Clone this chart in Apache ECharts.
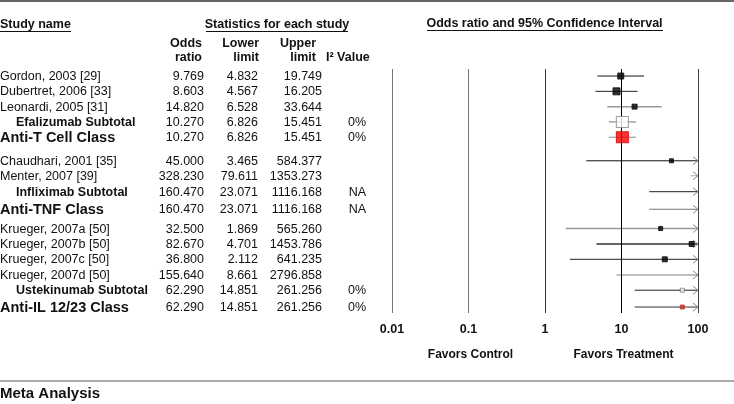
<!DOCTYPE html>
<html><head><meta charset="utf-8">
<script src="https://cdn.jsdelivr.net/npm/echarts@6/dist/echarts.min.js"></script>
<style>html,body{margin:0;padding:0;background:#fff}#c{width:734px;height:404px}</style>
</head><body><div id="c"></div>
<script>
// ---------------- data ----------------
const studyNames = ['Gordon, 2003 [29]','Dubertret, 2006 [33]','Leonardi, 2005 [31]','Efalizumab Subtotal','Anti-T Cell Class',
  'Chaudhari, 2001 [35]','Menter, 2007 [39]','Infliximab Subtotal','Anti-TNF Class',
  'Krueger, 2007a [50]','Krueger, 2007b [50]','Krueger, 2007c [50]','Krueger, 2007d [50]','Ustekinumab Subtotal','Anti-IL 12/23 Class'];
const rowKinds = ['study','study','study','sub','class','study','study','sub','class','study','study','study','study','sub','class'];
const oddsRatio = [9.769,8.603,14.820,10.270,10.270,45.000,328.230,160.470,160.470,32.500,82.670,36.800,155.640,62.290,62.290];
const lowerLimit = [4.832,4.567,6.528,6.826,6.826,3.465,79.611,23.071,23.071,1.869,4.701,2.112,8.661,14.851,14.851];
const upperLimit = [19.749,16.205,33.644,15.451,15.451,584.377,1353.273,1116.168,1116.168,565.260,1453.786,641.235,2796.858,261.256,261.256];
const i2Values = ['','','','0%','0%','','','NA','NA','','','','','0%','0%'];
const axisTicks = [0.01,0.1,1,10,100];
const tickLabels = ['0.01','0.1','1','10','100'];

// ---------------- layout / style ----------------
const rowPos = [0,1,2,3,4,5.54,6.52,7.56,8.71,9.97,10.98,11.98,13.0,14.0,15.1];
const lineColors = ['#111','#222','#999','#777','#888','#111','#aaa','#222','#777','#999','#666','#222','#aaa','#222','#333'];
const lineWidths = [1,1,1.5,1,1,1,1,1,1,1.5,2,1,1.5,1,1];
const markerSizes = [[6,6],[7,7],[5,5],[12,11],[12,11],[4,4],[4,4],[4,4],[4,4],[4,4],[5,5],[5,5],[4,4],[4,4],[4,4]];
const markerFill = ['#000','#000','#000','#fff','#ff0000','#000','#000','#000','#000','#000','#000','#000','#000','#fff','#c0302a'];
const markerStroke = ['#000','#000','#000','#888','#d00000','#000','#000','#000','#000','#000','#000','#000','#000','#777','#c0302a'];
const vLineColors = ['#777','#777','#333','#000','#444'];
const FONT = '"Liberation Sans", Arial, sans-serif';
const yMin = -0.46, yMax = 15.49;

const chart = echarts.init(document.getElementById('c'), null, {renderer:'canvas'});

const ciData = oddsRatio.map((v,i)=>[lowerLimit[i], upperLimit[i], rowPos[i]]);
const ptData = [];
oddsRatio.forEach((v,i)=>{
  if (v <= 100) ptData.push({value:[v,rowPos[i]], symbolSize:markerSizes[i],
    itemStyle:{color:markerFill[i], borderColor:markerStroke[i], borderWidth:1}});
});

chart.setOption({
  animation:false,
  grid:{left:392, right:36, top:69, height:244},
  xAxis:{type:'log', logBase:10, min:0.01, max:100,
    axisLine:{show:false}, axisTick:{show:false}, splitLine:{show:false},
    axisLabel:{margin:10, fontFamily:FONT, fontWeight:'bold', fontSize:12.5, color:'#111',
      formatter:(v)=>{const k=axisTicks.findIndex(t=>Math.abs(Math.log10(t)-Math.log10(v))<1e-6);return k>=0?tickLabels[k]:'';}}},
  yAxis:{type:'value', inverse:true, min:yMin, max:yMax, show:false},
  series:[
    {type:'custom', clip:false, data:ciData,
      renderItem:(params, api)=>{
        const i = params.dataIndex;
        const lo = api.value(0), hi = api.value(1), pos = api.value(2);
        const y = api.coord([1,pos])[1];
        const x0 = api.coord([lo,pos])[0];
        const x1 = api.coord([Math.min(hi,100),pos])[0];
        const ch = [{type:'line', shape:{x1:x0,y1:y,x2:x1,y2:y}, style:{stroke:lineColors[i], lineWidth:lineWidths[i]}}];
        if (hi > 100) {
          ch.push({type:'polyline', shape:{points:[[x1-5,y-4],[x1,y],[x1-5,y+4]]}, style:{stroke:'#888', fill:null, lineWidth:1}});
        }
        return {type:'group', children:ch};
      },
      markLine:{silent:true, symbol:'none', label:{show:false}, animation:false,
        data: axisTicks.map((v,k)=>({xAxis:v, lineStyle:{color:vLineColors[k], width:1, type:'solid'}}))}
    },
    {type:'scatter', symbol:'rect', data:ptData, z:5}
  ]
});

// ---------------- table text ----------------
const yPix = rowPos.map(p=>chart.convertToPixel({yAxisIndex:0}, p));
const g = [];
function txt(text,x,y,opt){
  opt = opt||{};
  g.push({type:'text', silent:true, style:{text:text, x:x, y:y, fill:opt.fill||'#111',
    font:(opt.bold?'bold ':'')+(opt.size||12.5)+'px '+FONT,
    align:opt.align||'left', textAlign:opt.align||'left', verticalAlign:'middle', textVerticalAlign:'middle'}});
}
function hline(x1,x2,y,color,w){
  g.push({type:'line', silent:true, shape:{x1:x1,y1:y,x2:x2,y2:y}, style:{stroke:color,lineWidth:w}});
}
// frame lines
hline(0,734,1,'#666',2);
hline(0,734,381,'#aaa',2);
// headers
txt('Study name',0,25,{bold:true}); hline(0,71,31.5,'#111',1);
txt('Statistics for each study',277,25,{bold:true,align:'center'}); hline(206,348,31.5,'#111',1);
txt('Odds ratio and 95% Confidence Interval',544.5,24,{bold:true,align:'center'}); hline(427,663,30.5,'#111',1);
txt('Odds',202,44,{bold:true,align:'right'}); txt('ratio',202,58,{bold:true,align:'right'});
txt('Lower',259,44,{bold:true,align:'right'}); txt('limit',259,58,{bold:true,align:'right'});
txt('Upper',316,44,{bold:true,align:'right'}); txt('limit',316,58,{bold:true,align:'right'});
txt('I² Value',326,58,{bold:true});
// rows
studyNames.forEach((n,i)=>{
  const y = yPix[i] + 0.5;
  if (rowKinds[i]==='class') txt(n,0,y,{bold:true,size:14.5});
  else if (rowKinds[i]==='sub') txt(n,16,y,{bold:true});
  else txt(n,0,y);
  txt(oddsRatio[i].toFixed(3),204,y,{align:'right'});
  txt(lowerLimit[i].toFixed(3),258,y,{align:'right'});
  txt(upperLimit[i].toFixed(3),322,y,{align:'right'});
  if (i2Values[i]) txt(i2Values[i],366,y,{align:'right'});
});
// footer labels
txt('Favors Control',470.5,355,{bold:true,size:12,align:'center'});
txt('Favors Treatment',623.5,355,{bold:true,size:12,align:'center'});
txt('Meta Analysis',0,394,{bold:true,size:15});
chart.setOption({graphic:{elements:g}});
</script>
</body></html>
